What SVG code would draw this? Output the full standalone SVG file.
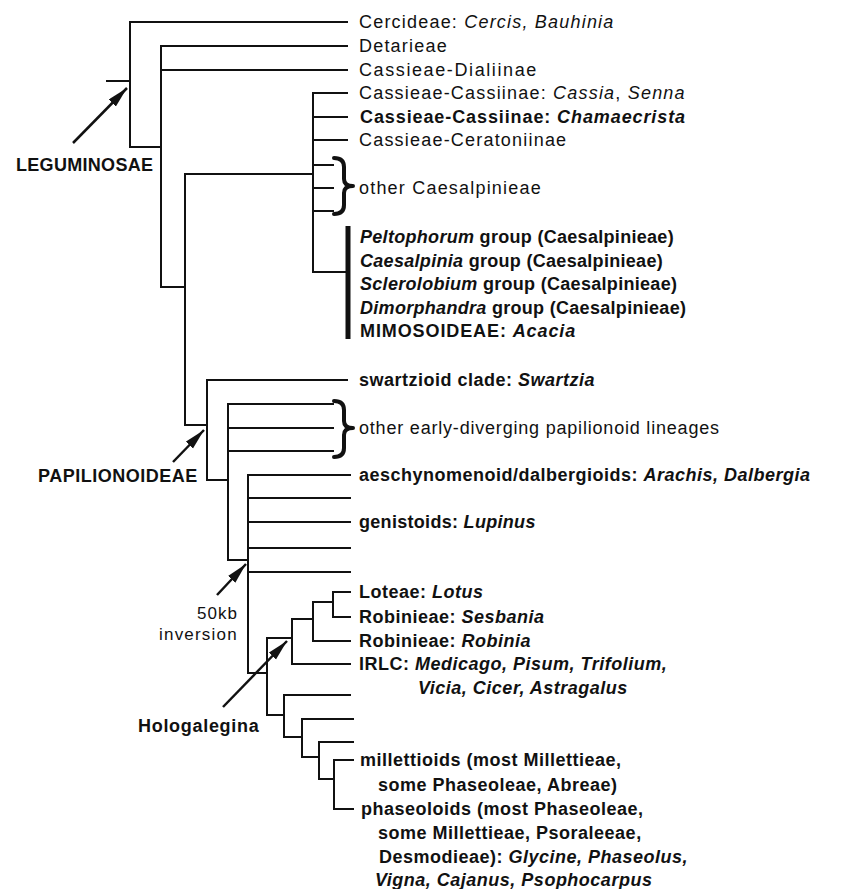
<svg xmlns="http://www.w3.org/2000/svg" width="856" height="889" viewBox="0 0 856 889">
<defs>
<marker id="ah" markerUnits="userSpaceOnUse" markerWidth="24" markerHeight="12" refX="21" refY="5" orient="auto"><path d="M0,0 L21,5 L0,10 Z" fill="#111"/></marker>
</defs>
<style>
.e{fill:none;stroke:#111;stroke-width:2;stroke-linecap:square}
.bar{fill:none;stroke:#111;stroke-width:5}
.br{fill:none;stroke:#111;stroke-width:4;stroke-linecap:round;stroke-linejoin:round}
.t{font-family:"Liberation Sans",Arial,Helvetica,sans-serif;font-size:18px;fill:#111}
.r{letter-spacing:1.2px}
.b{font-weight:bold;letter-spacing:0.5px}
.i{font-style:italic}
.ar{stroke:#111;stroke-width:2.5;fill:none;marker-end:url(#ah)}
</style>
<rect width="856" height="889" fill="#fff"/>
<g id="connectors">
<path class="e" d="M107,81 H130"/>
<path class="e" d="M347,22 H130 V147 H161"/>
<path class="e" d="M347,46 H161 V287 H185"/>
<path class="e" d="M161,70 H347"/>
<path class="e" d="M313,174 H185 V425 H207"/>
<path class="e" d="M347,93 H313 V272 H347"/>
<path class="e" d="M313,117 H347"/>
<path class="e" d="M313,140 H347"/>
<path class="e" d="M313,165 H333"/>
<path class="e" d="M313,188 H333"/>
<path class="e" d="M313,211 H333"/>
<path class="bar" d="M348,226 V339"/>
<path class="e" d="M347,380 H207 V480 H228"/>
<path class="e" d="M333,404 H228 V560 H248"/>
<path class="e" d="M228,428 H333"/>
<path class="e" d="M228,451 H333"/>
<path class="e" d="M350,475 H248 V673 H267"/>
<path class="e" d="M248,498 H350"/>
<path class="e" d="M248,522 H350"/>
<path class="e" d="M248,548 H350"/>
<path class="e" d="M248,572 H350"/>
<path class="e" d="M267,638 V715 H284"/>
<path class="e" d="M267,638 H292"/>
<path class="e" d="M350,664 H292 V619 H313"/>
<path class="e" d="M350,641 H313 V602 H333"/>
<path class="e" d="M350,592 H333 V617 H350"/>
<path class="e" d="M350,695 H284 V737 H302"/>
<path class="e" d="M353,719 H302 V757 H319"/>
<path class="e" d="M353,742 H319 V779 H334"/>
<path class="e" d="M353,760 H334 V809 H353"/>
<path class="ar" d="M73,143 L127,88"/>
<path class="ar" d="M173,462 L204,430"/>
<path class="ar" d="M217,595 L246,564"/>
<path class="ar" d="M223,707 L287,641"/>
</g>
<g id="leguminosae"><text class="t b" style="letter-spacing:0.3px" x="16" y="171">LEGUMINOSAE</text></g>
<g id="papilionoideae"><text class="t b" style="letter-spacing:0.5px" x="38" y="482">PAPILIONOIDEAE</text></g>
<g id="inversion"><text class="t r" style="font-size:17px;letter-spacing:1px" x="197" y="619">50kb</text><text class="t r" style="font-size:17px;letter-spacing:1.2px" x="159" y="640">inversion</text></g>
<g id="hologalegina"><text class="t b" style="letter-spacing:0.7px" x="138" y="732">Hologalegina</text></g>
<g id="cercideae"><text class="t r" x="359" y="28">Cercideae: <tspan class="i">Cercis,  Bauhinia</tspan></text></g>
<g id="detarieae"><text class="t r" x="359" y="52">Detarieae</text></g>
<g id="dialiinae"><text class="t r" style="letter-spacing:1.6px" x="359" y="76">Cassieae-Dialiinae</text></g>
<g id="cassiinae1"><text class="t r" x="359" y="99">Cassieae-Cassiinae:  <tspan class="i">Cassia</tspan>, <tspan class="i">Senna</tspan></text></g>
<g id="cassiinae2"><text class="t b" style="letter-spacing:0.9px" x="360" y="123">Cassieae-Cassiinae: <tspan class="i">Chamaecrista</tspan></text></g>
<g id="ceratoniinae"><text class="t r" x="359" y="146">Cassieae-Ceratoniinae</text></g>
<g id="other-caesalpinieae"><path class="br" d="M334,158 Q344,158 344,167 L344,179 Q344,186 353,186 Q344,186 344,193 L344,205 Q344,214 334,214"/><text class="t r" x="359" y="194">other Caesalpinieae</text></g>
<g id="peltophorum"><text class="t b" style="letter-spacing:0.3px" x="360" y="243"><tspan class="i">Peltophorum</tspan> group (Caesalpinieae)</text></g>
<g id="caesalpinia"><text class="t b" style="letter-spacing:0.3px" x="360" y="267"><tspan class="i">Caesalpinia</tspan> group (Caesalpinieae)</text></g>
<g id="sclerolobium"><text class="t b" style="letter-spacing:0.3px" x="360" y="290"><tspan class="i">Sclerolobium</tspan> group (Caesalpinieae)</text></g>
<g id="dimorphandra"><text class="t b" style="letter-spacing:0.3px" x="360" y="314"><tspan class="i">Dimorphandra</tspan> group (Caesalpinieae)</text></g>
<g id="mimosoideae"><text class="t b" style="letter-spacing:0.9px" x="360" y="337">MIMOSOIDEAE: <tspan class="i">Acacia</tspan></text></g>
<g id="swartzioid"><text class="t b" x="359" y="386">swartzioid clade: <tspan class="i">Swartzia</tspan></text></g>
<g id="early-papilionoid"><path class="br" d="M334,401 Q344,401 344,410 L344,421 Q344,428 353,428 Q344,428 344,435 L344,448 Q344,457 334,457"/><text class="t r" style="letter-spacing:0.8px" x="359" y="434">other early-diverging papilionoid lineages</text></g>
<g id="aeschynomenoid"><text class="t b" x="359" y="481">aeschynomenoid/dalbergioids: <tspan class="i">Arachis, Dalbergia</tspan></text></g>
<g id="genistoids"><text class="t b" style="letter-spacing:0.3px" x="359" y="528">genistoids: <tspan class="i">Lupinus</tspan></text></g>
<g id="loteae"><text class="t b" x="359" y="598">Loteae: <tspan class="i">Lotus</tspan></text></g>
<g id="sesbania"><text class="t b" x="359" y="623">Robinieae: <tspan class="i">Sesbania</tspan></text></g>
<g id="robinia"><text class="t b" x="359" y="647">Robinieae: <tspan class="i">Robinia</tspan></text></g>
<g id="irlc"><text class="t b" x="359" y="670">IRLC: <tspan class="i">Medicago, Pisum, Trifolium,</tspan></text><text class="t b i" x="418" y="694">Vicia, Cicer, Astragalus</text></g>
<g id="millettioids"><text class="t b" x="360" y="766">millettioids (most Millettieae,</text><text class="t b" x="378" y="791">some Phaseoleae, Abreae)</text></g>
<g id="phaseoloids"><text class="t b" x="361" y="815">phaseoloids (most Phaseoleae,</text><text class="t b" x="378" y="839">some Millettieae,  Psoraleeae,</text><text class="t b" x="379" y="863">Desmodieae): <tspan class="i">Glycine, Phaseolus,</tspan></text><text class="t b i" x="375" y="886">Vigna, Cajanus, Psophocarpus</text></g>
</svg>
